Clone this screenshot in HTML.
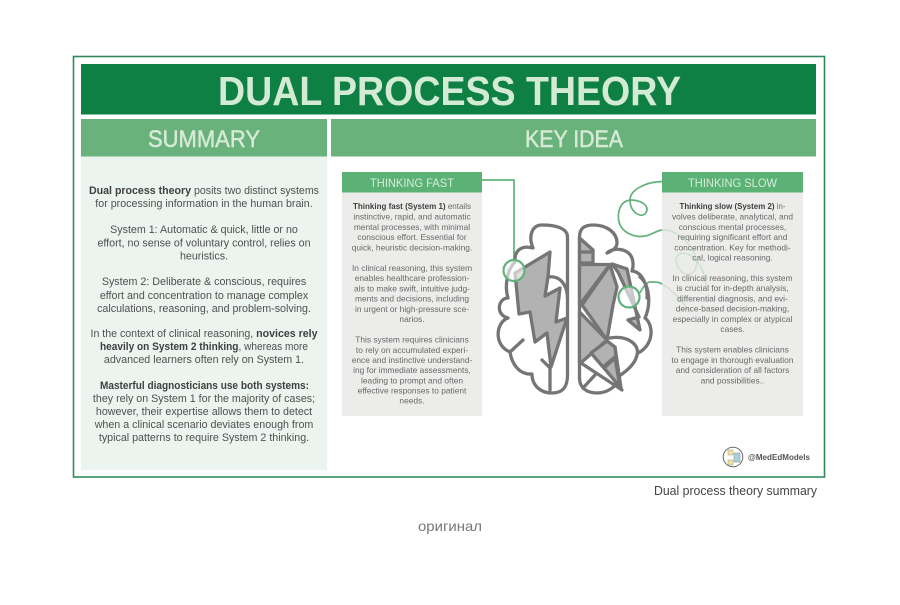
<!DOCTYPE html>
<html><head><meta charset="utf-8">
<style>
html,body{margin:0;padding:0;background:#fff;width:900px;height:605px;overflow:hidden}
svg{display:block;font-family:"Liberation Sans",sans-serif;filter:blur(.35px)}
.s text{font-size:10.7px;fill:#505050;text-anchor:middle}
.c text{font-size:8.4px;fill:#686868;text-anchor:middle}
.b{font-weight:bold;fill:#404040}
</style></head><body>
<svg width="900" height="605" viewBox="0 0 900 605" xmlns="http://www.w3.org/2000/svg">
<rect width="900" height="605" fill="#fff"/>
<rect x="73.500" y="56.500" width="751" height="420.500" fill="#fff" stroke="#2f8a5b" stroke-width="1.600"/>
<rect x="81" y="64" width="735" height="50.500" fill="#0f8043"/>
<text x="449.500" y="105" font-size="41" font-weight="bold" fill="#d3ead5" text-anchor="middle" textLength="463" lengthAdjust="spacingAndGlyphs">DUAL PROCESS THEORY</text>
<rect x="81" y="119" width="246" height="37.500" fill="#6ab27c"/>
<rect x="331" y="119" width="485" height="37.500" fill="#6ab27c"/>
<text x="204" y="147" font-size="24" fill="#d6ead6" stroke="#d6ead6" stroke-width=".5" text-anchor="middle" textLength="112" lengthAdjust="spacingAndGlyphs">SUMMARY</text>
<text x="574" y="147" font-size="24" fill="#d6ead6" stroke="#d6ead6" stroke-width=".5" text-anchor="middle" textLength="98" lengthAdjust="spacingAndGlyphs">KEY IDEA</text>
<rect x="81" y="156.500" width="246" height="313.500" fill="#ebf4ef"/>
<g class="s">
<text x="204" y="194" textLength="230" lengthAdjust="spacingAndGlyphs"><tspan class="b">Dual process theory</tspan> posits two distinct systems</text>
<text x="204" y="207">for processing information in the human brain.</text>
<text x="204" y="233">System 1: Automatic &amp; quick, little or no</text>
<text x="204" y="246.500">effort, no sense of voluntary control, relies on</text>
<text x="204" y="259.500">heuristics.</text>
<text x="204" y="285">System 2: Deliberate &amp; conscious, requires</text>
<text x="204" y="299">effort and concentration to manage complex</text>
<text x="204" y="312">calculations, reasoning, and problem-solving.</text>
<text x="204" y="337" textLength="227" lengthAdjust="spacingAndGlyphs">In the context of clinical reasoning, <tspan class="b">novices rely</tspan></text>
<text x="204" y="350" textLength="208" lengthAdjust="spacingAndGlyphs"><tspan class="b">heavily on System 2 thinking</tspan>, whereas more</text>
<text x="204" y="363">advanced learners often rely on System 1.</text>
<text x="204.500" y="389" textLength="209" lengthAdjust="spacingAndGlyphs"><tspan class="b">Masterful diagnosticians use both systems:</tspan></text>
<text x="204" y="402">they rely on System 1 for the majority of cases;</text>
<text x="204" y="415">however, their expertise allows them to detect</text>
<text x="204" y="428">when a clinical scenario deviates enough from</text>
<text x="204" y="441">typical patterns to require System 2 thinking.</text>
</g>
<rect x="342" y="192" width="140" height="224" fill="#ecedeb"/>
<rect x="662" y="192" width="141" height="224" fill="#ecedeb"/>
<rect x="342" y="172" width="140" height="20.500" fill="#5cb276"/>
<rect x="662" y="172" width="141" height="20.500" fill="#5cb276"/>
<text x="412" y="187" font-size="12" fill="#d6ecd8" text-anchor="middle" textLength="84" lengthAdjust="spacingAndGlyphs">THINKING FAST</text>
<text x="732.500" y="187" font-size="12" fill="#d6ecd8" text-anchor="middle" textLength="89" lengthAdjust="spacingAndGlyphs">THINKING SLOW</text>
<path d="M482 180H514V262" fill="none" stroke="#62b27c" stroke-width="1.700"/>
<path d="M662 181.500C645 182 630 190 630 200C630 212 640 218 645 214C650 208 645 201 632 200C620 200 617 212 619 222C622 233 635 238 645 236C652 235 655 231 662 230" fill="none" stroke="#62b27c" stroke-width="1.700"/>
<path d="M640 293C644 285 648 281 652 282C656 282 659 282 662 284" fill="none" stroke="#62b27c" stroke-width="1.700"/>
<g class="c">
<text x="412" y="209" textLength="118" lengthAdjust="spacingAndGlyphs"><tspan class="b">Thinking fast (System 1)</tspan> entails</text>
<text x="412" y="219.500">instinctive, rapid, and automatic</text>
<text x="412" y="230">mental processes, with minimal</text>
<text x="412" y="240">conscious effort. Essential for</text>
<text x="412" y="250.500">quick, heuristic decision-making.</text>
<text x="412" y="271">In clinical reasoning, this system</text>
<text x="412" y="281">enables healthcare profession-</text>
<text x="412" y="291.500">als to make swift, intuitive judg-</text>
<text x="412" y="301.500">ments and decisions, including</text>
<text x="412" y="312">in urgent or high-pressure sce-</text>
<text x="412" y="322">narios.</text>
<text x="412" y="342.500">This system requires clinicians</text>
<text x="412" y="353">to rely on accumulated experi-</text>
<text x="412" y="363">ence and instinctive understand-</text>
<text x="412" y="373">ing for immediate assessments,</text>
<text x="412" y="383.500">leading to prompt and often</text>
<text x="412" y="393.500">effective responses to patient</text>
<text x="412" y="403.500">needs.</text>
<text x="732.500" y="209" textLength="106" lengthAdjust="spacingAndGlyphs"><tspan class="b">Thinking slow (System 2)</tspan> in-</text>
<text x="732.500" y="219.500">volves deliberate, analytical, and</text>
<text x="732.500" y="230">conscious mental processes,</text>
<text x="732.500" y="240">requiring significant effort and</text>
<text x="732.500" y="250.500">concentration. Key for methodi-</text>
<text x="732.500" y="260.500">cal, logical reasoning.</text>
<text x="732.500" y="281">In clinical reasoning, this system</text>
<text x="732.500" y="291">is crucial for in-depth analysis,</text>
<text x="732.500" y="301.500">differential diagnosis, and evi-</text>
<text x="732.500" y="311.500">dence-based decision-making,</text>
<text x="732.500" y="322">especially in complex or atypical</text>
<text x="732.500" y="332">cases.</text>
<text x="732.500" y="352.500">This system enables clinicians</text>
<text x="732.500" y="363">to engage in thorough evaluation</text>
<text x="732.500" y="373">and consideration of all factors</text>
<text x="732.500" y="383.500">and possibilities..</text>
</g>
<path d="M662 230C675 229 688 240 695 255C700 268 692 280 682 272C672 262 675 250 688 254C702 262 706 276 706 290" fill="none" stroke="#62b27c" stroke-width="1.300" opacity=".25"/>
<path d="M662 284C672 290 680 298 690 312" fill="none" stroke="#62b27c" stroke-width="1.300" opacity=".25"/>
<g fill="none" stroke="#757575" stroke-width="3.300" stroke-linejoin="round" stroke-linecap="round">
<path d="M567.500 237C567.500 228 555 225 542 225C532 225 528 236 533 248C522 245 514 250 515 262C508 268 504 285 508 298C498 298 495 315 508 318C496 322 493 345 510 352C512 365 520 375 532 374C532 385 540 393 552 393C562 393 567.500 388 567.500 375Z"/>
<path d="M550 390V365M542 360L550 368M523 340L510 352"/>
<path d="M548 277C560 275 567 285 567.500 297"/>
<path d="M550 252L515 273L519 314L530 312L535 342L547 333L551 367L567 318L556 322L560 288L545 296L548 277Z" fill="#b2b2b2"/>
<path d="M579.500 378V237C579.500 228 585 225 593 225C606 225 617 232 617 243C617 248 612 251 607 253C613 247 628 248 632 258C634 264 633 268 632 271C642 272 648 285 647 298M640 277C650 285 651 305 645 318C654 325 654 345 638 353"/>
<path d="M610 338C628 335 640 345 637 355C635 365 625 372 618 377C618 388 605 393 597 393C587 393 579.500 388 579.500 378"/>
<path d="M579.500 238L593 250V263H579.500Z" fill="#b2b2b2"/>
<path d="M579.500 252H593"/>
<path d="M579.500 264.500H610L579.500 305Z" fill="#b2b2b2"/>
<path d="M610 265L582 305L607 340L613 305L617 287Z" fill="#b2b2b2"/>
<path d="M579.500 312L607 340L579.500 364Z" fill="#b2b2b2"/>
<path d="M612 264L627 269L640 330L628 320L639 317L618 272Z" fill="#b2b2b2"/>
<path d="M607 341L615 347L616 356L603 367L591 353Z" fill="#b2b2b2"/>
<path d="M615 358L604 368L620 387Z" fill="#b2b2b2"/>
<path d="M579.500 362L622 390M615 347L621 388M595 375L583 388"/>
</g>
<circle cx="514" cy="270.500" r="10.500" fill="#fff" fill-opacity=".6" stroke="#62b27c" stroke-width="2.200"/>
<circle cx="629" cy="297" r="10.500" fill="#fff" fill-opacity=".6" stroke="#62b27c" stroke-width="2.200"/>
<circle cx="733" cy="457" r="9.800" fill="#fff" stroke="#666" stroke-width="1"/>
<rect x="728" y="450" width="5" height="5" fill="#f0e39a" stroke="#999" stroke-width=".5"/>
<rect x="728" y="460" width="5" height="5" fill="#f0e39a" stroke="#999" stroke-width=".5"/>
<rect x="734" y="453" width="6" height="9" fill="#a9d3dc" stroke="#888" stroke-width=".5"/>
<text x="748" y="460" font-size="8.600" font-weight="bold" fill="#555" textLength="62" lengthAdjust="spacingAndGlyphs">@MedEdModels</text>
<text x="817" y="495" font-size="12.500" fill="#444" text-anchor="end" textLength="163" lengthAdjust="spacingAndGlyphs">Dual process theory summary</text>
<text x="450" y="531" font-size="14" fill="#777" text-anchor="middle" textLength="64" lengthAdjust="spacingAndGlyphs">оригинал</text>
</svg>
</body></html>
